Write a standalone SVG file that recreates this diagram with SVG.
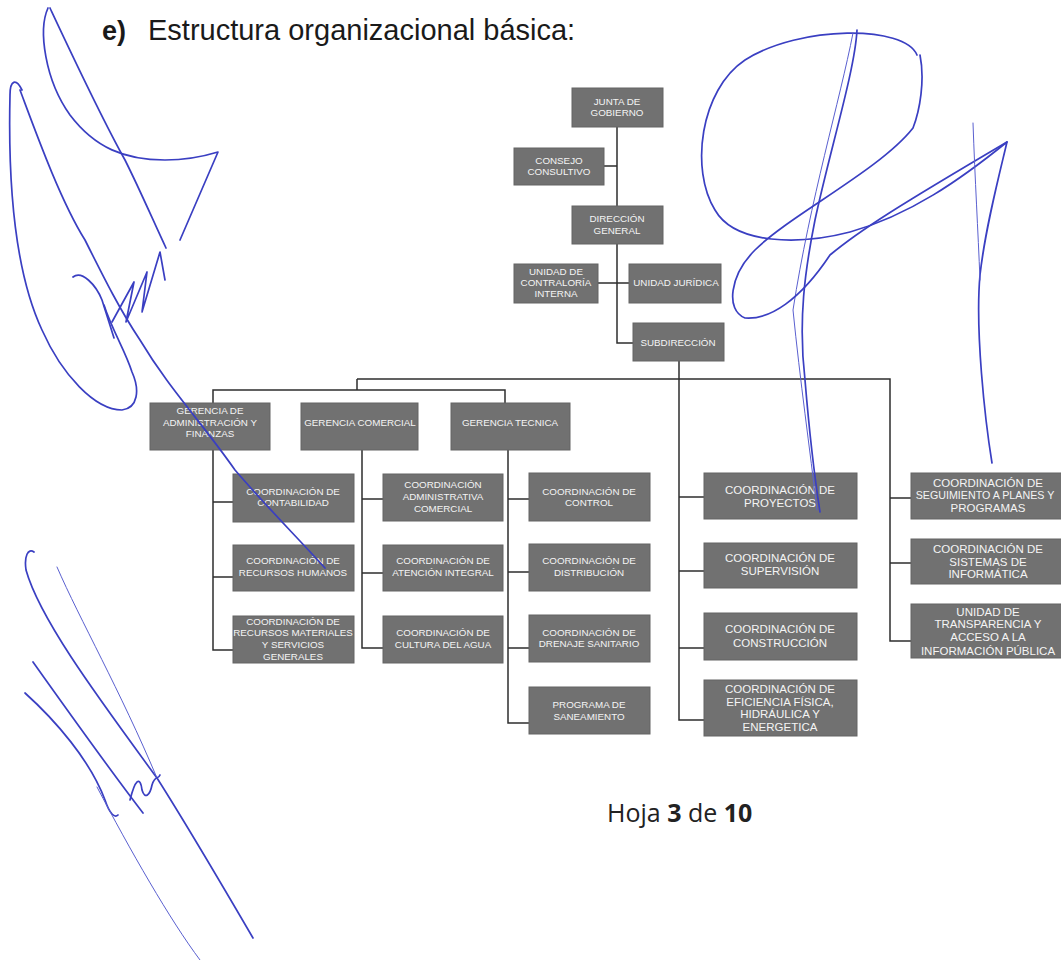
<svg xmlns="http://www.w3.org/2000/svg" width="1061" height="960" viewBox="0 0 1061 960">
<defs>
<style>
.box{fill:#717171;stroke:#646464;stroke-width:1}
.t{font-family:"Liberation Sans",Arial,sans-serif;font-size:9.8px;fill:#f4f4f4;text-anchor:middle}
.tl{font-family:"Liberation Sans",Arial,sans-serif;font-size:11.5px;fill:#f4f4f4;text-anchor:middle}
.c{fill:none;stroke:#2e2e2e;stroke-width:1.5}
.sig{fill:none;stroke:#3a3fc2;stroke-width:1.7;stroke-linecap:round;stroke-linejoin:round}
.sigt{fill:none;stroke:#5a60d0;stroke-width:1;stroke-linecap:round}
</style>
</defs>
<rect width="1061" height="960" fill="#ffffff"/>
<text x="102" y="40" font-family="Liberation Sans,Arial,sans-serif" font-size="27" font-weight="bold" fill="#1a1a1a">e)</text>
<text x="148" y="40" font-family="Liberation Sans,Arial,sans-serif" font-size="29" fill="#1a1a1a">Estructura organizacional básica:</text>

<g id="connectors">
<path class="c" d="M617,127 V206 M604,166 H617 M617,244 V343 H633 M598,283 H629"/>
<path class="c" d="M679,361 V720 H704 M679,497 H704 M679,571 H704 M679,648 H704"/>
<path class="c" d="M357,379 H890 V641 H911 M890,498 H911 M890,563 H911"/>
<path class="c" d="M357,379 V390 M213,403 V390 H505 V403"/>
<path class="c" d="M213,450 V650 H233 M213,502 H233 M213,577 H233"/>
<path class="c" d="M362,450 V648 H383 M362,499 H383 M362,573 H383"/>
<path class="c" d="M508,450 V723 H529 M508,499 H529 M508,572 H529 M508,648 H529"/>
</g>

<g id="junta"><rect class="box" x="572" y="88" width="91" height="39"/><text class="t" x="617" y="105">JUNTA DE</text><text class="t" x="617" y="116">GOBIERNO</text></g>
<g id="consejo"><rect class="box" x="514" y="148" width="90" height="37"/><text class="t" x="559" y="164">CONSEJO</text><text class="t" x="559" y="175">CONSULTIVO</text></g>
<g id="direccion"><rect class="box" x="572" y="206" width="91" height="38"/><text class="t" x="617" y="222">DIRECCIÓN</text><text class="t" x="617" y="234">GENERAL</text></g>
<g id="contraloria"><rect class="box" x="514" y="264" width="84" height="39"/><text class="t" x="556" y="275">UNIDAD DE</text><text class="t" x="556" y="286">CONTRALORÍA</text><text class="t" x="556" y="297">INTERNA</text></g>
<g id="juridica"><rect class="box" x="629" y="264" width="92" height="39"/><text class="t" x="676" y="286">UNIDAD JURÍDICA</text></g>
<g id="subdireccion"><rect class="box" x="633" y="323" width="91" height="38"/><text class="t" x="678" y="346">SUBDIRECCIÓN</text></g>

<g id="g-admin"><rect class="box" x="150" y="403" width="120" height="47"/><text class="t" x="210" y="414">GERENCIA DE</text><text class="t" x="210" y="426">ADMINISTRACIÓN Y</text><text class="t" x="210" y="437">FINANZAS</text></g>
<g id="g-comercial"><rect class="box" x="301" y="403" width="117" height="47"/><text class="t" x="360" y="426">GERENCIA COMERCIAL</text></g>
<g id="g-tecnica"><rect class="box" x="451" y="403" width="119" height="47"/><text class="t" x="510" y="426">GERENCIA TECNICA</text></g>

<g id="c-contabilidad"><rect class="box" x="233" y="474" width="121" height="48"/><text class="t" x="293" y="495">COORDINACIÓN DE</text><text class="t" x="293" y="506">CONTABILIDAD</text></g>
<g id="c-rrhh"><rect class="box" x="233" y="545" width="121" height="46"/><text class="t" x="293" y="564">COORDINACIÓN DE</text><text class="t" x="293" y="576">RECURSOS HUMANOS</text></g>
<g id="c-materiales"><rect class="box" x="233" y="616" width="121" height="47"/><text class="t" x="293" y="625">COORDINACIÓN DE</text><text class="t" x="293" y="636">RECURSOS MATERIALES</text><text class="t" x="293" y="648">Y SERVICIOS</text><text class="t" x="293" y="660">GENERALES</text></g>

<g id="c-admcomercial"><rect class="box" x="383" y="474" width="120" height="47"/><text class="t" x="443" y="488">COORDINACIÓN</text><text class="t" x="443" y="500">ADMINISTRATIVA</text><text class="t" x="443" y="512">COMERCIAL</text></g>
<g id="c-atencion"><rect class="box" x="383" y="545" width="120" height="46"/><text class="t" x="443" y="564">COORDINACIÓN DE</text><text class="t" x="443" y="576">ATENCIÓN INTEGRAL</text></g>
<g id="c-cultura"><rect class="box" x="383" y="616" width="120" height="47"/><text class="t" x="443" y="636">COORDINACIÓN DE</text><text class="t" x="443" y="648">CULTURA DEL AGUA</text></g>

<g id="c-control"><rect class="box" x="529" y="473" width="121" height="48"/><text class="t" x="589" y="495">COORDINACIÓN DE</text><text class="t" x="589" y="506">CONTROL</text></g>
<g id="c-distribucion"><rect class="box" x="529" y="544" width="121" height="47"/><text class="t" x="589" y="564">COORDINACIÓN DE</text><text class="t" x="589" y="576">DISTRIBUCIÓN</text></g>
<g id="c-drenaje"><rect class="box" x="529" y="615" width="121" height="47"/><text class="t" x="589" y="636">COORDINACIÓN DE</text><text class="t" x="589" y="647">DRENAJE SANITARIO</text></g>
<g id="c-saneamiento"><rect class="box" x="529" y="687" width="121" height="47"/><text class="t" x="589" y="708">PROGRAMA DE</text><text class="t" x="589" y="720">SANEAMIENTO</text></g>

<g id="c-proyectos"><rect class="box" x="704" y="473" width="153" height="46"/><text class="tl" x="780" y="494">COORDINACIÓN DE</text><text class="tl" x="780" y="507">PROYECTOS</text></g>
<g id="c-supervision"><rect class="box" x="704" y="543" width="153" height="45"/><text class="tl" x="780" y="562">COORDINACIÓN DE</text><text class="tl" x="780" y="575">SUPERVISIÓN</text></g>
<g id="c-construccion"><rect class="box" x="704" y="613" width="153" height="47"/><text class="tl" x="780" y="633">COORDINACIÓN DE</text><text class="tl" x="780" y="647">CONSTRUCCIÓN</text></g>
<g id="c-eficiencia"><rect class="box" x="704" y="680" width="153" height="56"/><text class="tl" x="780" y="693">COORDINACIÓN DE</text><text class="tl" x="780" y="706">EFICIENCIA FÍSICA,</text><text class="tl" x="780" y="718">HIDRÁULICA Y</text><text class="tl" x="780" y="731">ENERGETICA</text></g>

<g id="c-seguimiento"><rect class="box" x="911" y="473" width="160" height="46"/><text class="tl" x="988" y="487">COORDINACIÓN DE</text><text class="tl" x="985" y="499" style="font-size:10.7px">SEGUIMIENTO A PLANES Y</text><text class="tl" x="988" y="512">PROGRAMAS</text></g>
<g id="c-sistemas"><rect class="box" x="911" y="539" width="160" height="45"/><text class="tl" x="988" y="553">COORDINACIÓN DE</text><text class="tl" x="988" y="566">SISTEMAS DE</text><text class="tl" x="988" y="578">INFORMÁTICA</text></g>
<g id="u-transparencia"><rect class="box" x="911" y="604" width="160" height="54"/><text class="tl" x="988" y="616">UNIDAD DE</text><text class="tl" x="988" y="628">TRANSPARENCIA Y</text><text class="tl" x="988" y="641">ACCESO A LA</text><text class="tl" x="988" y="655">INFORMACIÓN PÚBLICA</text></g>

<text x="607" y="822" font-family="Open Sans,Liberation Sans,sans-serif" font-size="25" fill="#222">Hoja <tspan font-weight="bold">3</tspan> de <tspan font-weight="bold">10</tspan></text>

<g id="signatures">
<path class="sig" d="M48,8 C38,30 45,80 70,115 C95,148 125,160 165,160 C190,160 205,156 218,152 L180,240"/>
<path class="sig" d="M50,8 C65,40 100,115 125,160 C140,190 152,218 166,248"/>
<path class="sig" d="M22,90 C16,78 10,80 10,95 C8,180 14,270 42,330 C62,375 95,410 122,410 C138,408 140,390 132,372 C125,350 112,330 104,305"/>
<path class="sig" d="M20,90 C35,130 60,200 85,240 C105,280 120,310 140,340 C170,390 200,420 235,470 C265,505 295,535 325,568"/>
<path class="sig" d="M73,277 C82,270 96,285 102,300 L114,338 M112,322 L134,282 L126,322 L147,272 L142,312 L160,252 L165,280"/>
<path class="sig" d="M34,552 C28,548 24,556 26,570 C40,620 100,700 157,778 C190,830 225,890 253,938"/>
<path class="sigt" d="M57,567 C80,620 120,690 157,778"/>
<path class="sig" d="M33,662 C60,700 110,770 143,813"/>
<path class="sig" d="M25,693 C55,720 90,760 105,800 C110,815 115,818 118,815"/>
<path class="sigt" d="M97,787 C130,850 170,920 200,960"/>
<path class="sig" d="M130,800 C135,780 140,775 142,790 C145,800 150,795 152,785 C155,775 158,780 160,775"/>
<path class="sig" d="M917,55 C905,25 800,25 745,60 C700,90 690,170 715,210 C735,245 800,245 850,232 C910,215 960,180 1007,142 C998,180 985,230 980,275 C975,330 985,420 992,463"/>
<path class="sig" d="M857,30 C855,70 830,150 815,220 C805,270 798,320 805,380 C810,440 815,480 820,512"/>
<path class="sigt" d="M853,33 C840,100 810,200 793,310 C800,380 810,450 817,510"/>
<path class="sig" d="M920,55 C925,80 920,110 913,128 C880,170 790,215 755,250 C730,275 725,310 745,318 C770,320 800,300 830,255 C860,230 900,205 1007,142"/>
<path class="sigt" d="M973,123 C975,180 978,230 980,280"/>
</g>
</svg>
